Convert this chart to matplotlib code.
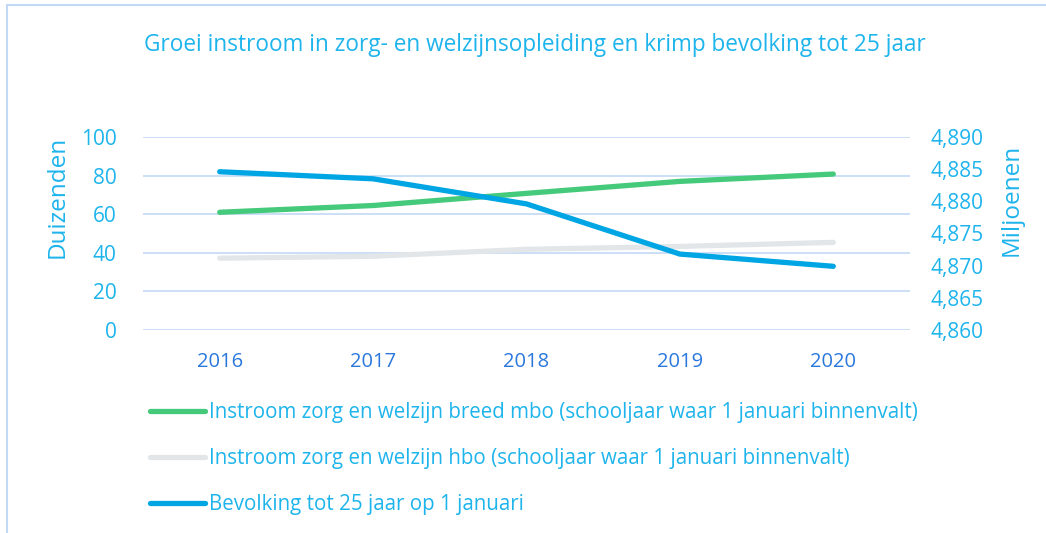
import matplotlib

matplotlib.use("Agg")
import matplotlib.pyplot as plt  # noqa: E402
from matplotlib.patches import Rectangle  # noqa: E402

plt.rcParams["font.family"] = ["Open Sans", "DejaVu Sans"]

years = ["2016", "2017", "2018", "2019", "2020"]
mbo = [61.0, 64.5, 70.8, 77.0, 80.8]          # duizenden
hbo = [37.2, 38.2, 41.8, 43.3, 45.4]          # duizenden
bevolking = [4.8846, 4.8835, 4.8796, 4.8718, 4.8699]  # miljoenen

left_ticks = [0, 20, 40, 60, 80, 100]
right_ticks = [4.860, 4.865, 4.870, 4.875, 4.880, 4.885, 4.890]

TXT = "#1EB4EC"
YEAR = "#2B78DD"
GRID = "#C2D9F6"
GREEN = "#45C97A"
GREY = "#E3E6E9"
BLUE = "#00A5E3"

W, H = 1046, 533
fig = plt.figure(figsize=(W / 100, H / 100), dpi=100)
ax = fig.add_axes([143 / W, 1 - 330 / H, (910 - 143) / W, (330 - 137) / H])
ax2 = ax.twinx()

x = range(len(years))
l1, = ax.plot(x, mbo, color=GREEN, lw=3.8, solid_capstyle="round", zorder=3)
l2, = ax.plot(x, hbo, color=GREY, lw=3.8, solid_capstyle="round", zorder=2)
l3, = ax2.plot(x, bevolking, color=BLUE, lw=3.8, solid_capstyle="round", zorder=4)

ax.set_xlim(-0.5, len(years) - 0.5)
ax.set_ylim(0, 100)
ax.set_yticks(left_ticks)
ax.set_yticklabels([str(t) for t in left_ticks])
ax2.set_ylim(4.860, 4.890)
ax2.set_yticks(right_ticks)
ax2.set_yticklabels([f"{t:.3f}".replace(".", ",") for t in right_ticks])
ax.set_xticks(list(x))
ax.set_xticklabels(years)

ax.grid(axis="y", color=GRID, lw=1.2)
ax.set_axisbelow(True)
for a in (ax, ax2):
    for s in a.spines.values():
        s.set_visible(False)
    a.tick_params(length=0)
ax.tick_params(axis="y", colors=TXT, labelsize=15, pad=19)
ax.tick_params(axis="x", colors=YEAR, labelsize=14.5, pad=16)
ax2.tick_params(axis="y", colors=TXT, labelsize=15, pad=15)

fig.text(58 / W, 1 - 197 / H, "Duizenden", rotation=90, ha="center", va="center",
         color=TXT, fontsize=17.5)
fig.text(1012 / W, 1 - 200 / H, "Miljoenen", rotation=90, ha="center", va="center",
         color=TXT, fontsize=17.5)

fig.text(535 / W, 1 - 45 / H, "Groei instroom in zorg- en welzijnsopleiding en krimp bevolking tot 25 jaar",
         ha="center", va="center", color=TXT, fontsize=16.3)

labels = [
    "Instroom zorg en welzijn breed mbo (schooljaar waar 1 januari binnenvalt)",
    "Instroom zorg en welzijn hbo (schooljaar waar 1 januari binnenvalt)",
    "Bevolking tot 25 jaar op 1 januari",
]
leg = fig.legend([l1, l2, l3], labels, loc="upper left",
                 bbox_to_anchor=(150 / W, 1 - 402 / H), frameon=False,
                 borderpad=0, borderaxespad=0,
                 fontsize=14.8, handlelength=2.67, handletextpad=0.2, labelspacing=1.22)
for t in leg.get_texts():
    t.set_color(TXT)

fig.patches.append(Rectangle((7 / W, -0.1), 1.2, 1 - 5 / H + 0.1, transform=fig.transFigure,
                             fill=False, edgecolor=GRID, lw=1.5))

fig.savefig("out.png", dpi=100)
